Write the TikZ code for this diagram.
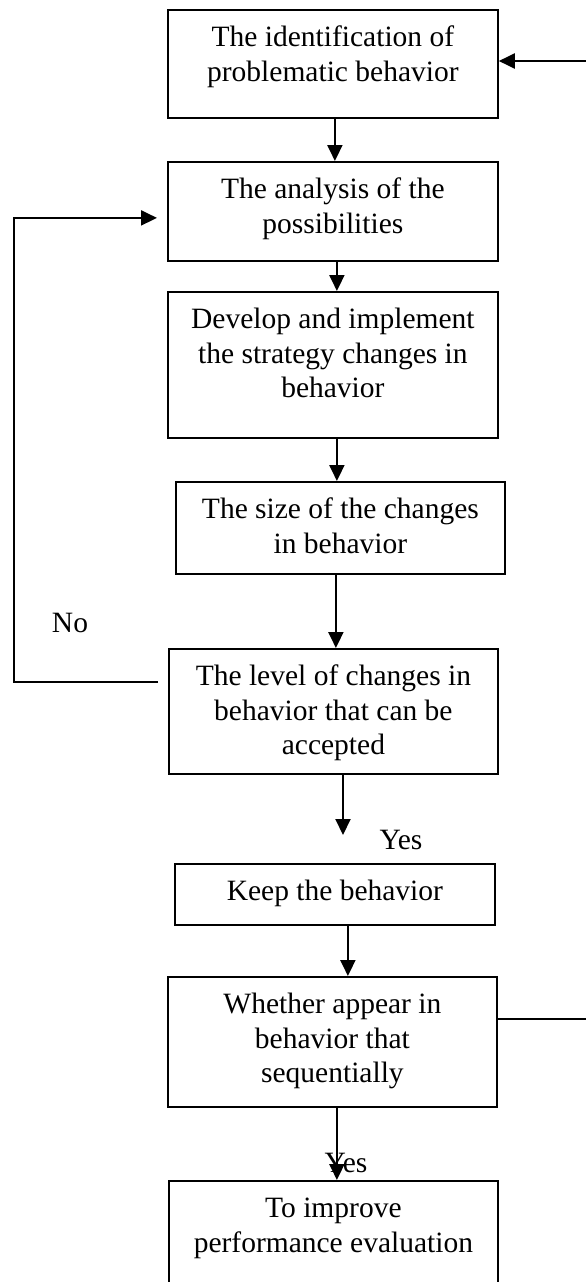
\documentclass[tikz,border=0pt]{standalone}
\usepackage{fontspec}
\setmainfont{Liberation Serif}
\usetikzlibrary{arrows.meta}
\newcommand{\stagetext}[3]{\parbox[t][#2pt][t]{#1pt}{\centering\rule{0pt}{37pt}#3}}
\tikzset{
  stagebox/.style={rectangle,draw=black,line width=1.8pt,inner sep=0pt,anchor=north west,
    font=\fontsize{29.5}{34.5}\selectfont},
  answer/.style={inner sep=0pt,font=\fontsize{29.5}{34.5}\selectfont},
  arrowln/.style={-{Triangle[length=16pt,width=15pt]},line width=2pt},
  plainln/.style={line width=2pt},
}
\begin{document}
\begin{tikzpicture}[x=1pt,y=-1pt]
    \useasboundingbox (0,0) rectangle (586,1282);
    \clip (0,0) rectangle (586,1282);
    \node[stagebox] (s1) at (167,9) {\stagetext{330}{108}{The identification of\\problematic behavior}};
    \node[stagebox] (s2) at (167,161) {\stagetext{330}{99}{The analysis of the\\possibilities}};
    \node[stagebox] (s3) at (167,291) {\stagetext{330}{146}{Develop and implement\\the strategy changes in\\behavior}};
    \node[stagebox] (s4) at (175,481) {\stagetext{329}{92}{The size of the changes\\in behavior}};
    \node[stagebox] (s5) at (168,648) {\stagetext{329}{125}{The level of changes in\\behavior that can be\\accepted}};
    \node[stagebox] (s6) at (174,863) {\stagetext{320}{61}{Keep the behavior}};
    \node[stagebox] (s7) at (167,976) {\stagetext{329}{130}{Whether appear in\\behavior that\\sequentially}};
    \node[stagebox] (s8) at (168,1180) {\stagetext{329}{130}{To improve\\performance evaluation}};
    \node[answer] (no) at (70,623) {No};
    \node[answer] (yes1) at (401,840) {Yes};
    \node[answer] (yes2) at (346,1163) {Yes};
    \coordinate (entry) at (586,61);
    \coordinate (yesend) at (343,835);
    \coordinate (exit) at (586,1019);
    \coordinate (loopcorner) at (14,682);
    \draw[arrowln] (entry) -- (entry -| s1.east);
    \draw[arrowln] ([xshift=2pt]s1.south) -- ([xshift=2pt]s1.south |- s2.north);
    \draw[arrowln] ([xshift=4pt]s2.south) -- ([xshift=4pt]s2.south |- s3.north);
    \draw[arrowln] ([xshift=4pt]s3.south) -- ([xshift=4pt]s3.south |- s4.north);
    \draw[arrowln] ([xshift=2.5pt]s5.north |- s4.south) -- ([xshift=2.5pt]s5.north);
    \draw[arrowln] (yesend |- s5.south) -- (yesend);
    \draw[arrowln] ([xshift=13pt]s6.south) -- ([xshift=13pt]s6.south |- s7.north);
    \draw[plainln] (exit -| s7.east) -- (exit);
    \draw[arrowln] ([xshift=4.5pt]s7.south) -- ([xshift=4.5pt]s7.south |- s8.north);
    \draw[arrowln] ([xshift=-10pt]s5.west |- loopcorner) -- (loopcorner) |- ([shift={(-10,6.5)}]s2.west);
\end{tikzpicture}
\end{document}
